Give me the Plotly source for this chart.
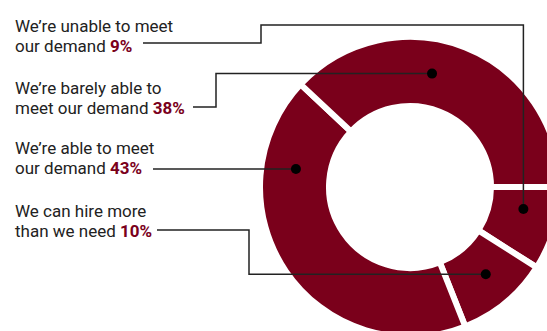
import math
import plotly.graph_objects as go

# Survey answers, in clockwise order starting at 3 o'clock
labels_top = ["We\u2019re unable to meet", "We can hire more", "We\u2019re able to meet", "We\u2019re barely able to"]
labels_bottom = ["our demand", "than we need", "our demand", "meet our demand"]
shares = [9, 10, 43, 38]

MAROON = "#7a001b"
TEXT = "#222222"
W, H = 560, 340

# donut geometry in pixels
cx, cy, R = 410, 187, 150
hole = 0.54
r_mid = (R * hole + R) / 2

# where each leader meets its slice (degrees, counter-clockwise from 3 o'clock)
dot_angles = [-11, -49, 171, 79]
# label block baselines (first line) and leader routes
label_y = [31, 216, 153, 93]
leader_start = [(143, 43), (157, 230), (153, None), (193, 107)]
# elbow x and, optionally, the y of a detour above the donut
leader_elbow = [(261, 25), (249, None), None, (216, None)]

fig = go.Figure()

fig.add_trace(go.Pie(
    values=shares,
    labels=[a + " " + b for a, b in zip(labels_top, labels_bottom)],
    sort=False,
    direction="clockwise",
    rotation=90,
    hole=hole,
    textinfo="none",
    hoverinfo="label+percent",
    showlegend=False,
    marker=dict(colors=[MAROON] * len(shares), line=dict(color="white", width=6)),
    domain=dict(x=[(cx - R) / W, (cx + R) / W], y=[1 - (cy + R) / H, 1 - (cy - R) / H]),
))

shapes = []
for i, ang in enumerate(dot_angles):
    dx = cx + r_mid * math.cos(math.radians(ang))
    dy = cy - r_mid * math.sin(math.radians(ang))

    sx, sy = leader_start[i]
    if sy is None:
        sy = dy
    pts = [(sx, sy)]
    elbow = leader_elbow[i]
    if elbow is not None:
        ex, ey = elbow
        pts.append((ex, sy))
        if ey is not None:
            pts += [(ex, ey), (dx, ey), (dx, dy)]
        else:
            pts += [(ex, dy), (dx, dy)]
    else:
        pts.append((dx, dy))
    path = "M " + " L ".join("%.1f,%.1f" % p for p in pts)
    shapes.append(dict(type="path", path=path, xref="x", yref="y", layer="above",
                       line=dict(color=TEXT, width=1.5)))
    rd = 5
    shapes.append(dict(type="circle", xref="x", yref="y", layer="above",
                       x0=dx - rd, x1=dx + rd, y0=dy - rd, y1=dy + rd,
                       fillcolor="black", line=dict(width=0)))

FONT = "Roboto, Liberation Sans, Arial, sans-serif"
FS = 17
annotations = []
for top, bottom, share, by in zip(labels_top, labels_bottom, shares, label_y):
    second = bottom + " <span style='color:%s'><b>%d%%</b></span>" % (MAROON, share)
    for line, base in ((top, by), (second, by + 20)):
        annotations.append(dict(x=13, y=base - 5, xref="x", yref="y", text=line,
                                showarrow=False, xanchor="left", yanchor="middle",
                                font=dict(family=FONT, size=FS, color=TEXT)))

fig.update_layout(
    width=W, height=H,
    margin=dict(l=0, r=0, t=0, b=0),
    paper_bgcolor="white", plot_bgcolor="rgba(0,0,0,0)",
    xaxis=dict(range=[0, W], visible=False, fixedrange=True, domain=[0, 1]),
    yaxis=dict(range=[H, 0], visible=False, fixedrange=True, domain=[0, 1]),
    shapes=shapes,
    annotations=annotations,
)

fig.write_html("out.html", post_script=(
    "document.body.style.margin='0';"
    "document.body.style.overflow='hidden';"
    "document.documentElement.style.overflow='hidden';"
))
